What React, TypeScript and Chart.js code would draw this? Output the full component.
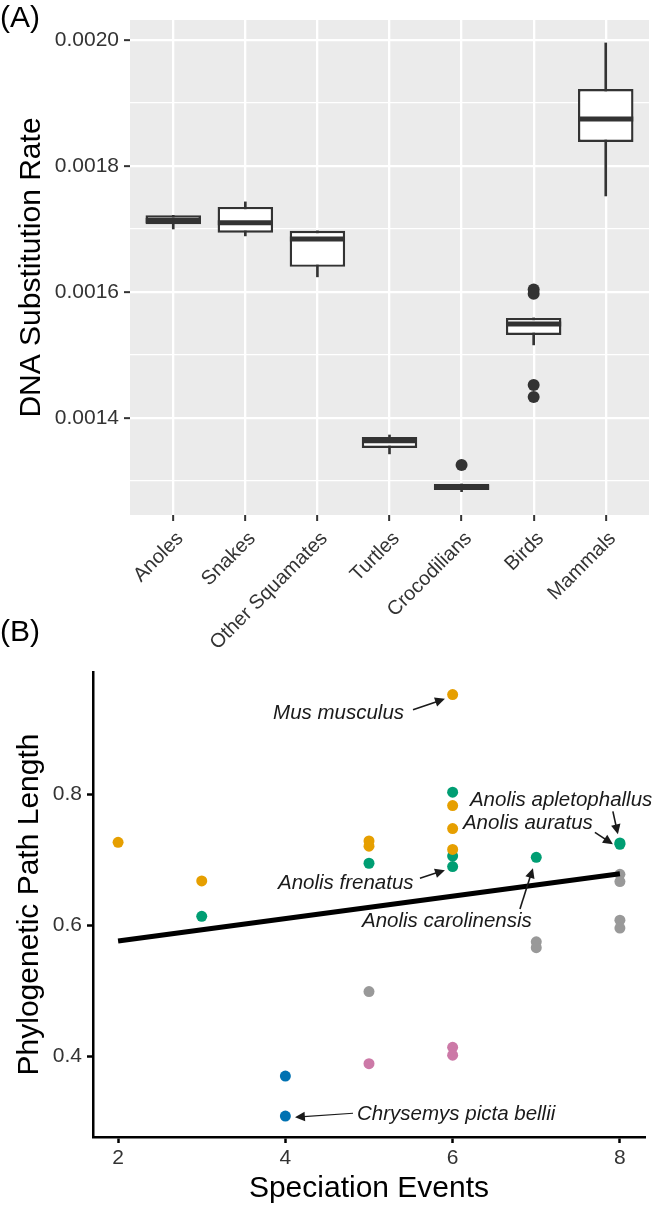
import React, { useEffect, useRef } from 'react';
import { Chart, registerables } from 'chart.js';

Chart.register(...registerables);

const FONT = '"Liberation Sans", Arial, Helvetica, sans-serif';
const TEXT_GREY = '#333333';
const BOX_DARK = '#333333';

// ---------------- Panel A: DNA substitution rate box plots ----------------
const groups = ['Anoles', 'Snakes', 'Other Squamates', 'Turtles', 'Crocodilians', 'Birds', 'Mammals'];
const groupIndex = [1, 2, 3, 4, 5, 6, 7];
const whiskerLow = [0.0017000, 0.0016890, 0.0016240, 0.0013430, 0.0012830, 0.0015160, 0.0017524];
const q1 = [0.0017075, 0.0016940, 0.0016400, 0.0013525, 0.0012858, 0.0015318, 0.0018381];
const median = [0.0017135, 0.0017100, 0.0016840, 0.0013640, 0.0012900, 0.0015490, 0.0018746];
const q3 = [0.0017217, 0.0017350, 0.0016970, 0.0013700, 0.0012953, 0.0015588, 0.0019222];
const whiskerHigh = [0.0017217, 0.0017430, 0.0016970, 0.0013730, 0.0012953, 0.0015588, 0.0019953];
const outlierGroup = ['Crocodilians', 'Birds', 'Birds', 'Birds', 'Birds'];
const outlierValue = [0.0013255, 0.0016040, 0.0015970, 0.0014524, 0.0014333];
const rateGridTicks = [0.0013, 0.0014, 0.0015, 0.0016, 0.0017, 0.0018, 0.0019, 0.0020];
const rateLabelTicks = [0.0014, 0.0016, 0.0018, 0.0020];

// ---------------- Panel B: path length vs speciation events ----------------
const orangeX = [2, 3, 5, 5, 6, 6, 6, 6];
const orangeY = [0.727, 0.668, 0.729, 0.721, 0.9525, 0.783, 0.748, 0.716];
const greenX = [3, 5, 6, 6, 6, 7, 8, 8];
const greenY = [0.614, 0.695, 0.8035, 0.706, 0.690, 0.704, 0.726, 0.724];
const blueX = [4, 4];
const blueY = [0.370, 0.309];
const grayX = [5, 7, 7, 8, 8, 8, 8];
const grayY = [0.499, 0.575, 0.566, 0.678, 0.667, 0.608, 0.596];
const pinkX = [5, 6, 6];
const pinkY = [0.389, 0.414, 0.402];
const trendX = [2, 8];
const trendY = [0.5764, 0.6788];
const eventTicks = [2, 4, 6, 8];
const lengthTicks = [0.4, 0.6, 0.8];

const annotationText = ['Mus musculus', 'Anolis apletophallus', 'Anolis auratus', 'Anolis frenatus', 'Anolis carolinensis', 'Chrysemys picta bellii'];
const annotationTextX = [3.853, 6.207, 6.123, 3.912, 4.916, 4.857];
const annotationTextY = [0.9156, 0.7817, 0.7468, 0.6555, 0.5977, 0.3027];
const arrowFromX = [5.526, 7.916, 7.701, 5.609, 6.805, 4.809];
const arrowFromY = [0.9293, 0.7741, 0.7422, 0.6722, 0.6251, 0.3133];
const arrowToX = [5.908, 7.976, 7.916, 5.908, 6.960, 4.115];
const arrowToY = [0.9460, 0.7392, 0.7240, 0.6844, 0.6875, 0.3072];
const arrowWidth = [1.6, 1.6, 1.6, 1.6, 1.6, 1.1];

const toPoints = (xs: number[], ys: number[]) => xs.map((x, i) => ({ x, y: ys[i] }));
const isLabelled = (v: number) => rateLabelTicks.some((t) => Math.abs(t - v) < 1e-9);

function drawArrow(ctx: CanvasRenderingContext2D, x1: number, y1: number, x2: number, y2: number, w: number) {
  const head = 11;
  const ang = Math.atan2(y2 - y1, x2 - x1);
  ctx.save();
  ctx.strokeStyle = '#1a1a1a';
  ctx.fillStyle = '#1a1a1a';
  ctx.lineWidth = w;
  ctx.beginPath();
  ctx.moveTo(x1, y1);
  ctx.lineTo(x2 - Math.cos(ang) * head * 0.8, y2 - Math.sin(ang) * head * 0.8);
  ctx.stroke();
  ctx.beginPath();
  ctx.moveTo(x2, y2);
  ctx.lineTo(x2 - head * Math.cos(ang - Math.PI / 7), y2 - head * Math.sin(ang - Math.PI / 7));
  ctx.lineTo(x2 - head * Math.cos(ang + Math.PI / 7), y2 - head * Math.sin(ang + Math.PI / 7));
  ctx.closePath();
  ctx.fill();
  ctx.restore();
}

const panelBackground = {
  id: 'panelBackground',
  beforeDraw(chart: any) {
    const { ctx, chartArea } = chart;
    ctx.save();
    ctx.fillStyle = '#EBEBEB';
    ctx.fillRect(chartArea.left, chartArea.top, chartArea.right - chartArea.left, chartArea.bottom - chartArea.top);
    ctx.restore();
  },
};

const panelLabel = (text: string, x: number, y: number) => ({
  id: 'panelLabel' + text,
  afterDraw(chart: any) {
    const ctx = chart.ctx;
    ctx.save();
    ctx.font = `30px ${FONT}`;
    ctx.fillStyle = '#000';
    ctx.textAlign = 'left';
    ctx.textBaseline = 'alphabetic';
    ctx.fillText(text, x, y);
    ctx.restore();
  },
});

const annotations = {
  id: 'annotations',
  afterDatasetsDraw(chart: any) {
    const { ctx, scales } = chart;
    const sx = scales.x;
    const sy = scales.y;
    ctx.save();
    ctx.font = `italic 20.5px ${FONT}`;
    ctx.fillStyle = '#1a1a1a';
    ctx.textAlign = 'left';
    ctx.textBaseline = 'alphabetic';
    annotationText.forEach((t, i) => {
      ctx.fillText(t, sx.getPixelForValue(annotationTextX[i]), sy.getPixelForValue(annotationTextY[i]));
      drawArrow(
        ctx,
        sx.getPixelForValue(arrowFromX[i]),
        sy.getPixelForValue(arrowFromY[i]),
        sx.getPixelForValue(arrowToX[i]),
        sy.getPixelForValue(arrowToY[i]),
        arrowWidth[i]
      );
    });
    ctx.restore();
  },
};

const zeroPad = (s: any) => {
  s.paddingLeft = 0;
  s.paddingRight = 0;
  s.paddingTop = 0;
  s.paddingBottom = 0;
};

export default function App() {
  const topRef = useRef<HTMLCanvasElement | null>(null);
  const bottomRef = useRef<HTMLCanvasElement | null>(null);

  useEffect(() => {
    Chart.defaults.font.family = FONT;
    const top = new Chart(topRef.current as HTMLCanvasElement, {
      type: 'bar',
      data: {
        datasets: [
          {
            type: 'scatter',
            label: 'median',
            data: groupIndex.map((x, i) => ({ x, y: median[i] })),
            pointStyle: 'line',
            pointRadius: 27.5,
            pointBorderWidth: 5,
            pointBorderColor: BOX_DARK,
            pointBackgroundColor: BOX_DARK,
            order: 0,
          } as any,
          {
            type: 'scatter',
            label: 'outliers',
            data: outlierGroup.map((g, i) => ({ x: groupIndex[groups.indexOf(g)], y: outlierValue[i] })),
            pointRadius: 6,
            pointBorderWidth: 0,
            pointBackgroundColor: BOX_DARK,
            order: 1,
          } as any,
          {
            type: 'bar',
            label: 'box',
            data: groupIndex.map((x, i) => ({ x, y: [q1[i], q3[i]] })),
            backgroundColor: '#ffffff',
            borderColor: BOX_DARK,
            borderWidth: 2.4,
            borderSkipped: false,
            grouped: false,
            barPercentage: 0.77,
            categoryPercentage: 1,
            order: 2,
          } as any,
          {
            type: 'bar',
            label: 'whiskers',
            data: groupIndex.map((x, i) => ({ x, y: [whiskerLow[i], whiskerHigh[i]] })),
            backgroundColor: BOX_DARK,
            borderWidth: 0,
            barThickness: 2,
            grouped: false,
            order: 3,
          } as any,
        ],
      },
      options: {
        animation: false,
        responsive: false,
        events: [],
        layout: { autoPadding: false, padding: { top: 20, right: 4, left: 0, bottom: 0 } },
        plugins: { legend: { display: false }, tooltip: { enabled: false } },
        scales: {
          x: {
            type: 'linear',
            min: 0.4,
            max: 7.6,
            offset: false,
            afterBuildTicks: (s: any) => {
              s.ticks = groupIndex.map((v) => ({ value: v }));
            },
            afterFit: (s: any) => {
              s.height = 145;
              zeroPad(s);
            },
            ticks: {
              callback: (v: any) => groups[Math.round(v) - 1] ?? '',
              minRotation: 45,
              maxRotation: 45,
              autoSkip: false,
              padding: 6,
              labelOffset: 7,
              color: TEXT_GREY,
              font: { size: 20, family: FONT },
            },
            grid: { offset: false, color: '#ffffff', lineWidth: 2.3, tickColor: BOX_DARK, tickLength: 6, tickWidth: 2 },
            border: { display: false },
          },
          y: {
            type: 'linear',
            min: 0.001246,
            max: 0.0020317,
            beginAtZero: false,
            afterBuildTicks: (s: any) => {
              s.ticks = rateGridTicks.map((v) => ({ value: v }));
            },
            afterFit: (s: any) => {
              s.width = 130;
              zeroPad(s);
            },
            ticks: {
              callback: (v: any) => (isLabelled(v) ? Number(v).toFixed(4) : ''),
              padding: 5,
              color: TEXT_GREY,
              font: { size: 21, family: FONT },
            },
            grid: {
              color: '#ffffff',
              lineWidth: (c: any) => (isLabelled(c.tick.value) ? 2.3 : 1.2),
              tickColor: (c: any) => (isLabelled(c.tick.value) ? BOX_DARK : 'rgba(0,0,0,0)'),
              tickLength: 6,
              tickWidth: 2,
            },
            border: { display: false },
            title: {
              display: true,
              text: 'DNA Substitution Rate',
              color: '#000',
              font: { size: 30, family: FONT },
              padding: { top: 14, bottom: 0 },
            },
          },
        },
      } as any,
      plugins: [panelBackground, panelLabel('(A)', 0, 27)],
    });

    const bottom = new Chart(bottomRef.current as HTMLCanvasElement, {
      type: 'scatter',
      data: {
        datasets: [
          {
            type: 'line',
            label: 'trend',
            data: toPoints(trendX, trendY),
            borderColor: '#000000',
            borderWidth: 5,
            pointRadius: 0,
            fill: false,
            order: 0,
          } as any,
          { label: 'orange', data: toPoints(orangeX, orangeY), pointRadius: 5.5, pointBorderWidth: 0, pointBackgroundColor: '#E69F00', backgroundColor: '#E69F00', order: 1 },
          { label: 'green', data: toPoints(greenX, greenY), pointRadius: 5.5, pointBorderWidth: 0, pointBackgroundColor: '#009E73', backgroundColor: '#009E73', order: 2 },
          { label: 'gray', data: toPoints(grayX, grayY), pointRadius: 5.5, pointBorderWidth: 0, pointBackgroundColor: '#999999', backgroundColor: '#999999', order: 3 },
          { label: 'pink', data: toPoints(pinkX, pinkY), pointRadius: 5.5, pointBorderWidth: 0, pointBackgroundColor: '#CC79A7', backgroundColor: '#CC79A7', order: 4 },
          { label: 'blue', data: toPoints(blueX, blueY), pointRadius: 5.5, pointBorderWidth: 0, pointBackgroundColor: '#0072B2', backgroundColor: '#0072B2', order: 5 },
        ] as any,
      },
      options: {
        animation: false,
        responsive: false,
        events: [],
        layout: { autoPadding: false, padding: { top: 72, right: 8, left: 0, bottom: 0 } },
        plugins: { legend: { display: false }, tooltip: { enabled: false } },
        scales: {
          x: {
            type: 'linear',
            min: 1.7,
            max: 8.3,
            afterBuildTicks: (s: any) => {
              s.ticks = eventTicks.map((v) => ({ value: v }));
            },
            afterFit: (s: any) => {
              s.height = 68;
              zeroPad(s);
            },
            ticks: { color: TEXT_GREY, padding: 3, font: { size: 21, family: FONT } },
            grid: { display: true, drawOnChartArea: false, tickLength: 6, tickWidth: 2.5, tickColor: '#000' },
            border: { display: true, color: '#000', width: 2.5 },
            title: {
              display: true,
              text: 'Speciation Events',
              color: '#000',
              font: { size: 30, family: FONT },
              padding: { top: 0, bottom: -2 },
            },
          },
          y: {
            type: 'linear',
            min: 0.277,
            max: 0.987,
            afterBuildTicks: (s: any) => {
              s.ticks = lengthTicks.map((v) => ({ value: v }));
            },
            afterFit: (s: any) => {
              s.width = 93;
              zeroPad(s);
            },
            ticks: {
              callback: (v: any) => Number(v).toFixed(1),
              color: TEXT_GREY,
              padding: 5,
              font: { size: 21, family: FONT },
            },
            grid: { display: true, drawOnChartArea: false, tickLength: 6, tickWidth: 2.5, tickColor: '#000' },
            border: { display: true, color: '#000', width: 2.5 },
            title: {
              display: true,
              text: 'Phylogenetic Path Length',
              color: '#000',
              font: { size: 30, family: FONT },
              padding: { top: 12, bottom: 0 },
            },
          },
        },
      } as any,
      plugins: [annotations, panelLabel('(B)', 0, 41)],
    });

    return () => {
      top.destroy();
      bottom.destroy();
    };
  }, []);

  return (
    <div style={{ position: 'absolute', left: 0, top: 0, width: 653, height: 1205, background: '#fff' }}>
      <canvas ref={topRef} width={653} height={660} style={{ position: 'absolute', left: 0, top: 0, width: 653, height: 660 }} />
      <canvas ref={bottomRef} width={653} height={605} style={{ position: 'absolute', left: 0, top: 600, width: 653, height: 605 }} />
    </div>
  );
}
